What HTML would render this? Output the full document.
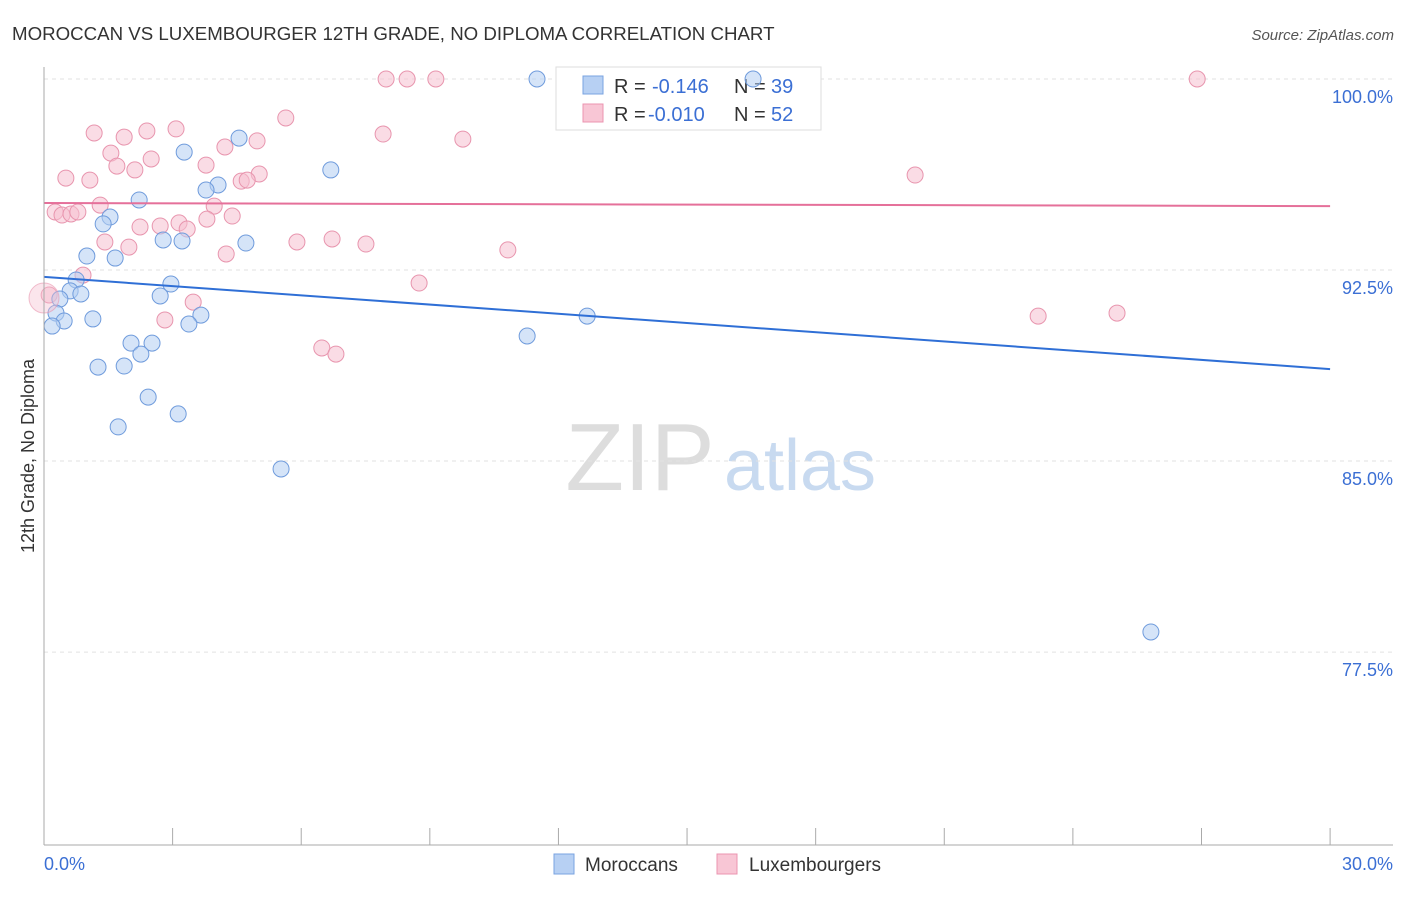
<!DOCTYPE html>
<html><head><meta charset="utf-8"><style>
body{margin:0;background:#fff;font-family:"Liberation Sans",sans-serif;}
svg text{font-family:"Liberation Sans",sans-serif;}
</style></head><body>
<svg id="c" width="1406" height="892" xmlns="http://www.w3.org/2000/svg">
<text x="12" y="40" font-size="18.7" fill="#333">MOROCCAN VS LUXEMBOURGER 12TH GRADE, NO DIPLOMA CORRELATION CHART</text>
<text x="1394" y="40" font-size="15" fill="#555" text-anchor="end" font-style="italic">Source: ZipAtlas.com</text>
<text transform="translate(34,456) rotate(-90)" font-size="18" fill="#333" text-anchor="middle">12th Grade, No Diploma</text>
<text x="640" y="490" font-size="96" fill="#ddd" font-family="Liberation Serif" text-anchor="middle">ZIP</text>
<text x="800" y="490" font-size="72" fill="#c8daf0" text-anchor="middle">atlas</text>
<g id="grid"></g>
<g>
<rect x="556" y="67" width="265" height="63" fill="#fff" stroke="#ddd"/>
<rect x="583" y="76" width="20" height="18" fill="#b7d0f3" stroke="#7aa3e0"/>
<rect x="583" y="104" width="20" height="18" fill="#f8c6d5" stroke="#eb94b0"/>
<text x="614" y="93" font-size="20" fill="#333">R =</text>
<text x="652" y="93" font-size="20" fill="#3b6fd4">-0.146</text>
<text x="734" y="93" font-size="20" fill="#333">N =</text>
<text x="771" y="93" font-size="20" fill="#3b6fd4">39</text>
<text x="614" y="121" font-size="20" fill="#333">R =</text>
<text x="648" y="121" font-size="20" fill="#3b6fd4">-0.010</text>
<text x="734" y="121" font-size="20" fill="#333">N =</text>
<text x="771" y="121" font-size="20" fill="#3b6fd4">52</text>
</g>
<g id="pts"></g><g id="lines"></g>
<line x1="44" y1="67" x2="44" y2="845" stroke="#aaa"/>
<line x1="44" y1="845" x2="1393" y2="845" stroke="#aaa"/>
<text x="44" y="870" font-size="18" fill="#3b6fd4">0.0%</text>
<text x="1393" y="870" font-size="18" fill="#3b6fd4" text-anchor="end">30.0%</text>
<g>
<rect x="554" y="854" width="20" height="20" fill="#b7d0f3" stroke="#7aa3e0"/>
<text x="585" y="871" font-size="19" fill="#333">Moroccans</text>
<rect x="717" y="854" width="20" height="20" fill="#f8c6d5" stroke="#eb94b0"/>
<text x="749" y="871" font-size="19" fill="#333">Luxembourgers</text>
</g>
</svg>
<script>
const yTicks=[100,92.5,85,77.5];
const yTickLabels=["100.0%","92.5%","85.0%","77.5%"];
const xTicks=[0,3,6,9,12,15,18,21,24,27,30];
const blueX=[11.50,16.54,4.55,3.27,6.69,2.22,4.06,3.78,1.54,1.38,1.00,1.66,2.78,3.22,4.71,0.75,2.96,0.61,0.86,0.37,2.71,0.28,1.14,3.66,3.38,0.47,0.19,11.27,12.67,2.03,2.52,2.26,1.26,1.87,2.43,3.13,1.73,5.53,25.82];
const blueY=[100,100,97.68,97.13,96.43,95.25,95.84,95.64,94.58,94.31,93.05,92.97,93.68,93.64,93.56,92.11,91.95,91.68,91.56,91.36,91.48,90.81,90.58,90.73,90.38,90.50,90.30,89.91,90.69,89.63,89.63,89.20,88.69,88.73,87.51,86.85,86.34,84.69,78.29];
const pinkX=[7.98,8.47,9.14,26.90,5.64,1.17,1.87,2.40,3.08,7.91,9.77,4.97,4.22,1.56,2.50,3.78,1.70,2.12,5.02,0.51,1.07,4.60,4.74,20.32,3.97,1.31,0.26,0.42,0.63,0.79,3.15,2.71,3.80,4.39,3.34,2.24,1.42,1.98,5.90,6.72,7.51,4.25,10.82,0.91,8.75,0.12,3.48,2.82,6.48,6.81,23.19,25.03];
const pinkY=[100,100,100,100,98.47,97.88,97.72,97.96,98.04,97.84,97.64,97.57,97.33,97.09,96.86,96.62,96.58,96.43,96.27,96.11,96.03,95.99,96.03,96.23,95.01,95.05,94.78,94.66,94.70,94.78,94.35,94.23,94.50,94.62,94.11,94.19,93.60,93.40,93.60,93.72,93.52,93.13,93.29,92.30,91.99,91.52,91.24,90.54,89.44,89.20,90.69,90.81];
const blueTrend=[92.23,88.61];
const pinkTrend=[95.13,95.01];
const NS="http://www.w3.org/2000/svg";
const sx=v=>44+v*42.87, sy=v=>79+(100-v)*25.47;
function mk(p,t,a){const e=document.createElementNS(NS,t);for(const k in a)e.setAttribute(k,a[k]);p.appendChild(e);return e;}
const grid=document.getElementById('grid');
yTicks.forEach((v,i)=>{
 const l=mk(grid,'line',{x1:44,x2:1393,y1:sy(v),y2:sy(v),stroke:'#e2e2e2','stroke-dasharray':'4,4'});
 
 
 const t=mk(grid,'text',{x:1393,y:sy(v)+24,'font-size':18,fill:'#3b6fd4','text-anchor':'end'});
 t.textContent=yTickLabels[i];
 
 
});
xTicks.forEach(v=>{
 const l=mk(grid,'line',{x1:sx(v),x2:sx(v),y1:828,y2:845,stroke:'#aaa'});
 
 
});
const pts=document.getElementById('pts');
function series(xs,ys,fill,stroke,name){
 xs.forEach((x,i)=>{
  const c=mk(pts,'circle',{cx:sx(x),cy:sy(ys[i]),r:8,fill:fill,'fill-opacity':0.55,stroke:stroke,'stroke-width':1});
  
  
 });
}
series(pinkX,pinkY,'#f6bfd0','#e895ae','luxembourger-point');
series(blueX,blueY,'#b3cdf2','#6f9bdc','moroccan-point');
const big1=mk(pts,'circle',{cx:sx(0),cy:sy(91.4),r:15,fill:'#f6bfd0','fill-opacity':0.4,stroke:'#e895ae','stroke-opacity':0.6});


const lines=document.getElementById('lines');
const bl=mk(lines,'line',{x1:sx(0),y1:sy(blueTrend[0]),x2:sx(30),y2:sy(blueTrend[1]),stroke:'#2f6fd6','stroke-width':2});


const pl=mk(lines,'line',{x1:sx(0),y1:sy(pinkTrend[0]),x2:sx(30),y2:sy(pinkTrend[1]),stroke:'#e5709a','stroke-width':2});


</script>
</body></html>
